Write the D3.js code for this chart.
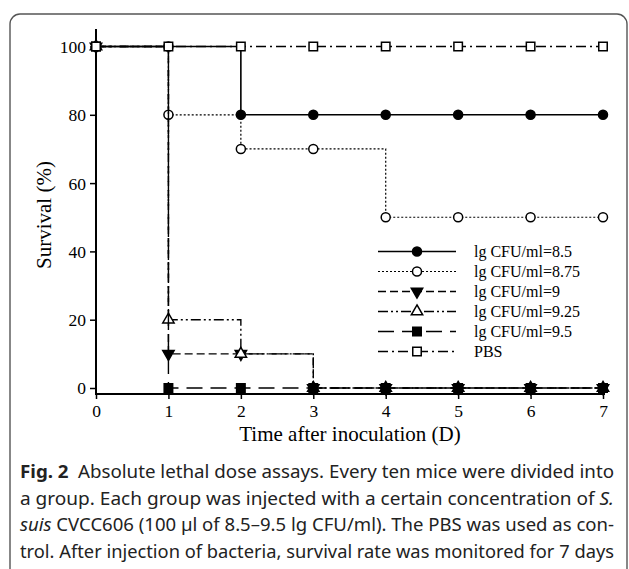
<!DOCTYPE html>
<html>
<head>
<meta charset="utf-8">
<script src="https://cdn.jsdelivr.net/npm/d3@7"></script>
<style>
  body { margin: 0; background: #fff; }
  svg { display: block; }
</style>
</head>
<body>
<script>
// survival data
const days = [0, 1, 2, 3, 4, 5, 6, 7];
const names = ["lg CFU/ml=8.5", "lg CFU/ml=8.75", "lg CFU/ml=9", "lg CFU/ml=9.25", "lg CFU/ml=9.5", "PBS"];
const s85  = [100, 100, 80, 80, 80, 80, 80, 80];
const s875 = [100, 80, 70, 70, 50, 50, 50, 50];
const s9   = [100, 10, 10, 0, 0, 0, 0, 0];
const s925 = [100, 20, 10, 0, 0, 0, 0, 0];
const s95  = [100, 0, 0, 0, 0, 0, 0, 0];
const pbs  = [100, 100, 100, 100, 100, 100, 100, 100];
const yTicks = [0, 20, 40, 60, 80, 100];

const width = 629, height = 569;

const styles = [
  {dash: null,             mark: "circle",   fill: "#000", sw: 1.6},
  {dash: "2,2",            mark: "circle",   fill: "#fff", sw: 1.2},
  {dash: "8,4",            mark: "tridown",  fill: "#000", sw: 1.4},
  {dash: "10,3,2,3,2,3",   mark: "triangle", fill: "#fff", sw: 1.4},
  {dash: "16,8",           mark: "square",   fill: "#000", sw: 1.4},
  {dash: "10,4,2,4",       mark: "square",   fill: "#fff", sw: 1.4}
];
const series = [s85, s875, s9, s925, s95, pbs];

const svg = d3.select("body").append("svg")
  .attr("width", width).attr("height", height);

// outer frame (runs off the page at right and bottom)
svg.append("rect")
  .attr("x", 10).attr("y", 14)
  .attr("width", 617).attr("height", 620)
  .attr("rx", 10)
  .attr("fill", "none").attr("stroke", "#555").attr("stroke-width", 1.4);

const x = d3.scaleLinear().domain([0, 7]).range([96, 603]);
const y = d3.scaleLinear().domain([0, 100]).range([388, 46.5]);

const serif = "'Liberation Serif', 'Times New Roman', serif";

// axes
const yAx = svg.append("g").attr("transform", "translate(96,0)")
  .call(d3.axisLeft(y).tickValues(yTicks).tickSize(6).tickPadding(4).tickSizeOuter(0));
yAx.select(".domain").remove();
yAx.selectAll("line").attr("stroke-width", 1.5);
yAx.selectAll("text").attr("font-family", serif).attr("font-size", 17.5).attr("fill", "#000").attr("dy", "0.34em");

const xAx = svg.append("g").attr("transform", "translate(0,394)")
  .call(d3.axisBottom(x).tickValues(days).tickFormat(d3.format("d")).tickSize(5).tickPadding(6).tickSizeOuter(0));
xAx.select(".domain").remove();
xAx.selectAll("line").attr("stroke-width", 1.5);
xAx.selectAll("text").attr("font-family", serif).attr("font-size", 17.5).attr("fill", "#000");

svg.append("line").attr("x1", 96).attr("x2", 96).attr("y1", 29).attr("y2", 395)
  .attr("stroke", "#000").attr("stroke-width", 2);
svg.append("line").attr("x1", 95).attr("x2", 605).attr("y1", 394).attr("y2", 394)
  .attr("stroke", "#000").attr("stroke-width", 2);

// titles
svg.append("text").attr("x", 350).attr("y", 441)
  .attr("text-anchor", "middle").attr("font-family", serif).attr("font-size", 21)
  .text("Time after inoculation (D)");
svg.append("text").attr("transform", "translate(51,215) rotate(-90)")
  .attr("text-anchor", "middle").attr("font-family", serif).attr("font-size", 21)
  .text("Survival (%)");

function symbolPath(kind) {
  if (kind === "circle") return d3.symbol(d3.symbolCircle, 64)();
  if (kind === "square") return d3.symbol(d3.symbolSquare, 72)();
  return d3.symbol(d3.symbolTriangle, 56)();
}
function drawMark(g, kind, fill, cx, cy) {
  g.append("path")
    .attr("d", symbolPath(kind))
    .attr("transform", `translate(${cx},${cy})` + (kind === "tridown" ? " rotate(180)" : ""))
    .attr("fill", fill).attr("stroke", "#000").attr("stroke-width", 1.5);
}

const line = d3.line().x((d, i) => x(days[i])).y(d => y(d)).curve(d3.curveStepAfter);

series.forEach((vals, k) => {
  const st = styles[k];
  const g = svg.append("g");
  g.append("path").attr("d", line(vals))
    .attr("fill", "none").attr("stroke", "#000").attr("stroke-width", st.sw)
    .attr("stroke-dasharray", st.dash);
  vals.forEach((v, i) => drawMark(g, st.mark, st.fill, x(days[i]), y(v)));
});

// legend
const lg = svg.append("g");
names.forEach((n, k) => {
  const st = styles[k];
  const ly = 251.5 + k * 20;
  lg.append("line").attr("x1", 378).attr("x2", 456).attr("y1", ly).attr("y2", ly)
    .attr("stroke", "#000").attr("stroke-width", st.sw).attr("stroke-dasharray", st.dash);
  drawMark(lg, st.mark, st.fill, 417, ly);
  lg.append("text").attr("x", 474).attr("y", ly).attr("dy", "0.33em")
    .attr("font-family", serif).attr("font-size", 16).text(n);
});

// caption
const sans = "'Noto Sans', 'Open Sans', sans-serif";
const cap = [
  [["Fig. 2", "bold"], ["\u2002Absolute lethal dose assays. Every ten mice were divided into", ""]],
  [["a group. Each group was injected with a certain concentration of ", ""], ["S.", "italic"]],
  [["suis", "italic"], [" CVCC606 (100 \u00b5l of 8.5\u20139.5 lg CFU/ml). The PBS was used as con-", ""]],
  [["trol. After injection of bacteria, survival rate was monitored for 7 days", ""]]
];
cap.forEach((parts, i) => {
  const t = svg.append("text").attr("x", 20).attr("y", 478 + i * 26.5)
    .attr("font-family", sans).attr("font-size", 18).attr("fill", "#222")
    .attr("textLength", 594).attr("lengthAdjust", "spacingAndGlyphs");
  parts.forEach(([s, f]) => {
    const ts = t.append("tspan").text(s);
    if (f === "bold") ts.attr("font-weight", "bold");
    if (f === "italic") ts.attr("font-style", "italic");
  });
});
</script>
</body>
</html>
